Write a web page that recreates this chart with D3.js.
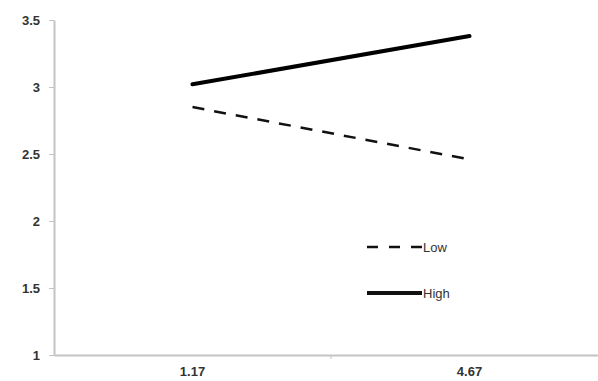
<!DOCTYPE html>
<html lang="en">
<head>
    <meta charset="UTF-8">
    <title>Interaction plot</title>
    <style>
        body { margin: 0; background: #fff; }
        text { font-family: "Liberation Sans", Arial, sans-serif; }
    </style>
</head>
<body>
<script type='text/javascript' src='https://d3js.org/d3.v7.min.js'></script>
<script>
    var categories = ["1.17", "4.67"];
    var lowValues = [2.85, 2.46];
    var highValues = [3.02, 3.38];
    var seriesNames = ["Low", "High"];
    var yTicks = [1, 1.5, 2, 2.5, 3, 3.5];

    const xSize = 598;
    const ySize = 381;

    const svg = d3.select("body")
        .append("svg")
        .attr("width", xSize)
        .attr("height", ySize);

    var x = d3.scaleBand()
        .domain(categories)
        .range([54, 608]);

    var y = d3.scaleLinear()
        .domain([1, 3.5])
        .range([355, 20]);

    // y axis
    var yAxis = svg.append("g")
        .attr("transform", "translate(54,0)")
        .call(d3.axisLeft(y).tickValues(yTicks).tickFormat(d3.format("")).tickSize(5).tickSizeOuter(0));
    yAxis.select(".domain").attr("stroke", "#c4c4c4").attr("stroke-width", 2);
    yAxis.selectAll(".tick line").attr("stroke", "#c4c4c4");
    yAxis.selectAll(".tick text")
        .attr("x", -14)
        .attr("fill", "#333")
        .attr("font-size", 13)
        .attr("font-weight", "bold");

    // x axis (excel style: tick between categories)
    var xAxis = svg.append("g")
        .attr("transform", "translate(0,355)")
        .call(d3.axisBottom(x).tickSize(0).tickSizeOuter(0));
    xAxis.select(".domain").attr("stroke", "#c4c4c4").attr("stroke-width", 2);
    xAxis.selectAll(".tick text")
        .attr("y", 12)
        .attr("fill", "#333")
        .attr("font-size", 13)
        .attr("font-weight", "bold");
    xAxis.append("line")
        .attr("x1", x(categories[1]))
        .attr("x2", x(categories[1]))
        .attr("y1", 0)
        .attr("y2", 4)
        .attr("stroke", "#c4c4c4");

    var line = d3.line()
        .x(function(d, i) { return x(categories[i]) + x.bandwidth() / 2; })
        .y(function(d) { return y(d); });

    svg.append("path")
        .datum(lowValues)
        .attr("fill", "none")
        .attr("stroke", "#111")
        .attr("stroke-width", 2.5)
        .attr("stroke-dasharray", "12,10")
        .attr("d", line);

    svg.append("path")
        .datum(highValues)
        .attr("fill", "none")
        .attr("stroke", "#000")
        .attr("stroke-width", 4)
        .attr("stroke-linecap", "round")
        .attr("d", line);

    // legend
    var legend = svg.append("g").attr("transform", "translate(367,247)");
    seriesNames.forEach(function(name, i) {
        var g = legend.append("g").attr("transform", "translate(0," + (i * 46) + ")");
        g.append("line")
            .attr("x1", 0).attr("x2", 55)
            .attr("stroke", "#111")
            .attr("stroke-width", i === 0 ? 2.5 : 4)
            .attr("stroke-dasharray", i === 0 ? "11,11" : null);
        g.append("text")
            .attr("x", 56)
            .attr("dy", "0.35em")
            .attr("fill", "#333")
            .attr("font-size", 13)
            .text(name);
    });
</script>
</body>
</html>
